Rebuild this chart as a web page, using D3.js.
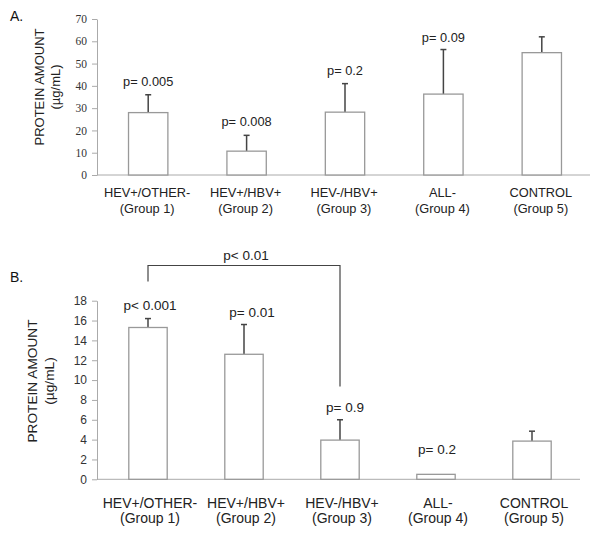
<!DOCTYPE html>
<html><head><meta charset="utf-8">
<script src="https://cdn.jsdelivr.net/npm/d3@7"></script>
<style>body{margin:0;background:#fff}svg{display:block}</style>
</head><body>
<svg id="c" width="600" height="534"></svg>
<script>
const groupNames = ["HEV+/OTHER-","HEV+/HBV+","HEV-/HBV+","ALL-","CONTROL"];
const groupLabels = ["(Group 1)","(Group 2)","(Group 3)","(Group 4)","(Group 5)"];
const valuesA = [28, 10.7, 28.2, 36.3, 54.9];
const errorsA = [36, 17.8, 41, 56.3, 62];
const pLabelsA = ["p= 0.005","p= 0.008","p= 0.2","p= 0.09",""];
const ticksA = [0,10,20,30,40,50,60,70];
const valuesB = [15.3, 12.6, 3.95, 0.5, 3.85];
const errorsB = [16.2, 15.6, 6.0, null, 4.85];
const pLabelsB = ["p< 0.001","p= 0.01","p= 0.9","p= 0.2",""];
const ticksB = [0,2,4,6,8,10,12,14,16,18];
const bracketLabel = "p< 0.01";

const svg = d3.select("#c");
const sans = "Liberation Sans, Arial, sans-serif";
const serif = "Liberation Serif, Times New Roman, serif";

function panel(o){
  const g = svg.append("g");
  const x = d3.scaleBand().domain(groupNames).range(o.xr).paddingInner(0.6).paddingOuter(0.3);
  const y = d3.scaleLinear().domain([0,o.max]).range([o.y0,o.y1]);
  const ax = g.append("g").attr("transform",`translate(${o.ax},0)`)
    .call(d3.axisLeft(y).tickValues(o.ticks).tickSize(5).tickSizeOuter(0).tickPadding(5));
  ax.select(".domain").attr("stroke","#aaa");
  ax.selectAll(".tick line").attr("stroke","#aaa");
  ax.selectAll(".tick text").attr("fill","#333").style("font-family",o.tickFont).style("font-size",o.tickSize);
  g.append("line").attr("x1",o.ax).attr("x2",o.xEnd).attr("y1",y(0)).attr("y2",y(0)).attr("stroke","#aaa");
  const bw = x.bandwidth();
  const cx = d => x(d)+bw/2;
  groupNames.forEach((n,i)=>{
    const e = o.err[i]; if(e==null) return;
    g.append("line").attr("x1",cx(n)).attr("x2",cx(n)).attr("y1",y(o.vals[i])).attr("y2",y(e)).attr("stroke","#444").attr("stroke-width",1.5);
    g.append("line").attr("x1",cx(n)-3).attr("x2",cx(n)+3).attr("y1",y(e)).attr("y2",y(e)).attr("stroke","#444").attr("stroke-width",1.5);
  });
  g.selectAll("rect.bar").data(o.vals).join("rect").attr("class","bar")
    .attr("x",(d,i)=>x(groupNames[i])).attr("width",bw)
    .attr("y",d=>y(d)).attr("height",d=>y(0)-y(d))
    .attr("fill","#fff").attr("stroke","#999").attr("stroke-width",1.3);
  groupNames.forEach((n,i)=>{
    if(!o.p[i]) return;
    const top = o.err[i]!=null ? o.err[i] : o.vals[i];
    g.append("text").attr("x",cx(n)+(o.pdx?o.pdx[i]:0)).attr("y",y(top)-o.pgap[i])
      .attr("text-anchor","middle").style("font-family",sans).style("font-size",o.pSize).attr("fill","#222").text(o.p[i]);
  });
  groupNames.forEach((n,i)=>{
    g.append("text").attr("x",cx(n)+o.ldx).attr("y",o.y0+o.l1).attr("text-anchor","middle")
      .style("font-family",sans).style("font-size",o.lSize).attr("fill","#222").text(n);
    g.append("text").attr("x",cx(n)+o.ldx).attr("y",o.y0+o.l2).attr("text-anchor","middle")
      .style("font-family",sans).style("font-size",o.lSize).attr("fill","#222").text(groupLabels[i]);
  });
  const ym = o.titleY;
  g.append("text").attr("transform",`translate(${o.tx1},${ym}) rotate(-90)`).attr("text-anchor","middle")
    .style("font-family",sans).style("font-size",o.tSize).attr("fill","#222").text("PROTEIN AMOUNT");
  g.append("text").attr("transform",`translate(${o.tx2},${ym}) rotate(-90)`).attr("text-anchor","middle")
    .style("font-family",sans).style("font-size",o.tSize).attr("fill","#222").text("(µg/mL)");
  g.append("text").attr("x",10).attr("y",o.letterY).style("font-family",sans).style("font-size","14px").attr("fill","#111").text(o.letter);
  return {x,y,cx};
}

panel({xr:[99,591],ax:97,xEnd:590,y0:175,y1:19,max:70,ticks:ticksA,tickFont:serif,tickSize:"11.5px",
  vals:valuesA,err:errorsA,p:pLabelsA,pgap:[9,9,9,8],pSize:"12.8px",
  lSize:"12.8px",l1:22,l2:38,ldx:-1,tSize:"13px",
  titleY:87,tx1:44,tx2:60,letter:"A.",letterY:21});

const B = panel({xr:[100,580],ax:97,xEnd:580,y0:479.3,y1:300.7,max:18,ticks:ticksB,tickFont:sans,tickSize:"12px",
  vals:valuesB,err:errorsB,p:pLabelsB,pdx:[2,8,5,1,0],pgap:[9,8,8,20],pSize:"13.5px",
  lSize:"14px",l1:29,l2:44,ldx:2,tSize:"13.7px",
  titleY:381,tx1:37,tx2:54,letter:"B.",letterY:282});

const bx1 = B.cx(groupNames[0]), bx2 = B.cx(groupNames[2]);
const by = 265.5;
svg.append("path").attr("d",`M${bx1},${by+16}V${by}H${bx2}V${by+121}`).attr("fill","none").attr("stroke","#444").attr("stroke-width",1.2);
svg.append("text").attr("x",(bx1+bx2)/2+2).attr("y",by-6).attr("text-anchor","middle")
  .style("font-family",sans).style("font-size","13.5px").attr("fill","#222").text(bracketLabel);
</script>
</body></html>
